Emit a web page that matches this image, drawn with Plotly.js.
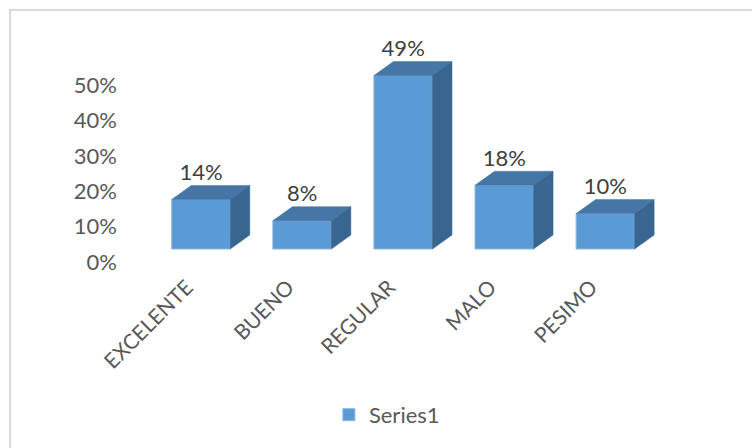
<!DOCTYPE html>
<html>
<head>
<meta charset="utf-8">
<script src="https://cdn.plot.ly/plotly-3.0.1.min.js"></script>
<style>
  html, body { margin: 0; padding: 0; background: #ffffff; }
  #wrap { position: relative; width: 752px; height: 448px; overflow: hidden; }
  #chart { position: absolute; left: 0; top: 0; width: 752px; height: 448px; }
  #frame { position: absolute; left: 9px; top: 9px; width: 800px; height: 500px;
           border: 2px solid #d9d9d9; pointer-events: none; }
</style>
</head>
<body>
<div id="wrap">
  <div id="chart"></div>
  <div id="frame"></div>
</div>
<script>
// ---- data ----
const categories = ['EXCELENTE', 'BUENO', 'REGULAR', 'MALO', 'PESIMO'];
const values = [0.14, 0.08, 0.49, 0.18, 0.10];
const valueLabels = ['14%', '8%', '49%', '18%', '10%'];
const yTickVals = [0, 0.1, 0.2, 0.3, 0.4, 0.5];
const yTickText = ['0%', '10%', '20%', '30%', '40%', '50%'];
const seriesName = 'Series1';

// ---- style / geometry ----
const FONT = 'Lato, "Open Sans", "Liberation Sans", sans-serif';
const frontColor = '#5B9BD5';
const topColor = '#4676A5';
const sideColor = '#396690';
const barWidth = 0.579;     // in category units
const depthX = 0.193;       // 3D depth offset (category units)
const depthY = 0.0395;      // 3D depth offset (value units)
const barRange = [-0.821, 4.936];
const labelShift = 0.14;

const idx = categories.map((c, i) => i);
const traces = [];

// empty trace so the labelled axes (x, y) get drawn
traces.push({
  type: 'scatter', mode: 'markers', x: [], y: [], xaxis: 'x', yaxis: 'y',
  hoverinfo: 'skip', showlegend: false
});

traces.push({
  type: 'bar', x: idx, y: values, width: barWidth, name: seriesName,
  xaxis: 'x2', yaxis: 'y2',
  marker: { color: frontColor, line: { color: '#8FB6DE', width: 1 } },
  hoverinfo: 'skip', showlegend: true
});

idx.forEach((i) => {
  const v = values[i];
  const l = i - barWidth / 2, r = i + barWidth / 2;
  // top face
  traces.push({
    type: 'scatter', mode: 'lines', xaxis: 'x2', yaxis: 'y2',
    x: [l, r, r + depthX, l + depthX, l],
    y: [v, v, v + depthY, v + depthY, v],
    fill: 'toself', fillcolor: topColor,
    line: { color: topColor, width: 0.5 }, hoverinfo: 'skip', showlegend: false
  });
  // side face
  traces.push({
    type: 'scatter', mode: 'lines', xaxis: 'x2', yaxis: 'y2',
    x: [r, r, r + depthX, r + depthX, r],
    y: [0, v, v + depthY, depthY, 0],
    fill: 'toself', fillcolor: sideColor,
    line: { color: sideColor, width: 0.5 }, hoverinfo: 'skip', showlegend: false
  });
});

traces.push({
  type: 'scatter', mode: 'text', xaxis: 'x2', yaxis: 'y2',
  x: idx, y: values.map(v => v + depthY), text: valueLabels,
  textposition: 'top center',
  textfont: { family: FONT, size: 22, color: '#404040' },
  hoverinfo: 'skip', showlegend: false, cliponaxis: false
});

const layout = {
  width: 752, height: 448,
  margin: { l: 118, r: 52, t: 40, b: 178 },
  paper_bgcolor: 'rgba(0,0,0,0)', plot_bgcolor: 'rgba(0,0,0,0)',
  font: { family: FONT, size: 21, color: '#595959' },
  showlegend: true,
  legend: {
    orientation: 'h', x: 0.462, xanchor: 'center', y: -0.63, yanchor: 'middle',
    font: { family: FONT, size: 22, color: '#595959' }
  },
  xaxis: {
    type: 'linear', range: [barRange[0] + labelShift, barRange[1] + labelShift],
    tickmode: 'array', tickvals: idx, ticktext: categories, tickangle: -45,
    showgrid: false, zeroline: false, showline: false, ticks: '',
    tickfont: { family: FONT, size: 21, color: '#595959' }, fixedrange: true
  },
  xaxis2: { overlaying: 'x', range: barRange, visible: false, fixedrange: true },
  yaxis: {
    range: [-0.0226, 0.6271], tickmode: 'array', tickvals: yTickVals, ticktext: yTickText,
    showgrid: false, zeroline: false, showline: false, ticks: '',
    tickfont: { family: FONT, size: 22, color: '#595959' }, fixedrange: true
  },
  yaxis2: { overlaying: 'y', range: [-0.0593, 0.5904], visible: false, fixedrange: true }
};

Plotly.newPlot('chart', traces, layout, { staticPlot: true, displayModeBar: false });
</script>
</body>
</html>
